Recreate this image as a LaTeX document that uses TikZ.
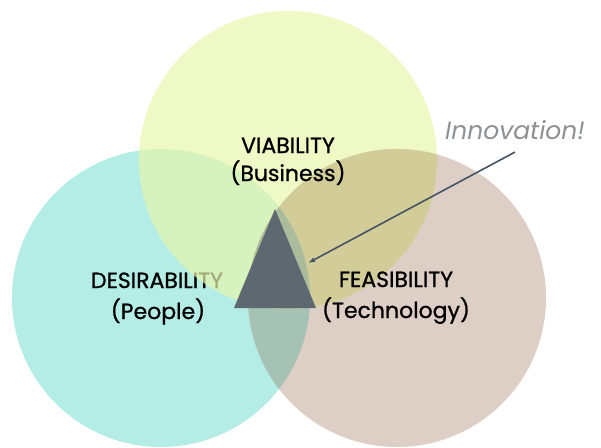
\documentclass[tikz,border=0pt]{standalone}
\usepackage{fontspec}
\setmainfont{Poppins}
\usetikzlibrary{arrows.meta}

\definecolor{viabfill}{HTML}{E7F6AC}
\definecolor{desirfill}{HTML}{B3EDE6}
\definecolor{feasfill}{HTML}{DDCFC6}
\definecolor{desfeas}{HTML}{A6C2B5}
\definecolor{viafeas}{HTML}{D1CC98}
\definecolor{allthree}{HTML}{ABBC9C}
\definecolor{slate}{HTML}{5D6870}
\definecolor{arrowgrey}{HTML}{445464}
\definecolor{innovgrey}{HTML}{8C9196}

\begin{document}
\begin{tikzpicture}[
  x=1pt,y=-1pt,
  lbl/.style={anchor=base,font=\fontsize{22}{26}\selectfont\addfontfeatures{FakeBold=0.9}},
  arr/.style={-{Latex[length=7pt,width=5pt]},line width=1.6pt,draw=arrowgrey}
]
\useasboundingbox (0,0) rectangle (601,447);
\coordinate (cv) at (288,160);
\coordinate (cd) at (161,298);
\coordinate (cf) at (397,298);

% Circles
\fill[desirfill] (cd) circle (149pt);
\fill[feasfill] (cf) circle (149pt);
\begin{scope}
  \clip (cd) circle (149pt);
  \fill[desfeas] (cf) circle (149pt);
\end{scope}
\node[lbl] (desir) at (157,288) {DESIRABILITY};
\fill[viabfill,fill opacity=0.7] (cv) circle (149pt);
\begin{scope}
  \clip (cv) circle (149pt);
  \fill[viafeas] (cf) circle (149pt);
  \clip (cd) circle (149pt);
  \fill[allthree] (cf) circle (149pt);
\end{scope}

% Innovation triangle
\fill[slate] (275,209) -- (316,308) -- (234,308) -- cycle;

% Labels
\node[lbl] (viab) at (288,153) {VIABILITY};
\node[lbl] (viabsub) at (288,181) {(Business)};
\node[lbl] (desirsub) at (158,319) {(People)};
\node[lbl] (feas) at (396,287) {FEASIBILITY};
\node[lbl] (feassub) at (396,318) {(Technology)};

\node[anchor=base,font=\fontsize{25}{25}\selectfont\itshape,text=innovgrey,outer sep=9.5pt] (innov) at (515,139) {Innovation!};
\coordinate (target) at (308,263);
\draw[arr] (innov.south) -- (target);
\end{tikzpicture}
\end{document}
